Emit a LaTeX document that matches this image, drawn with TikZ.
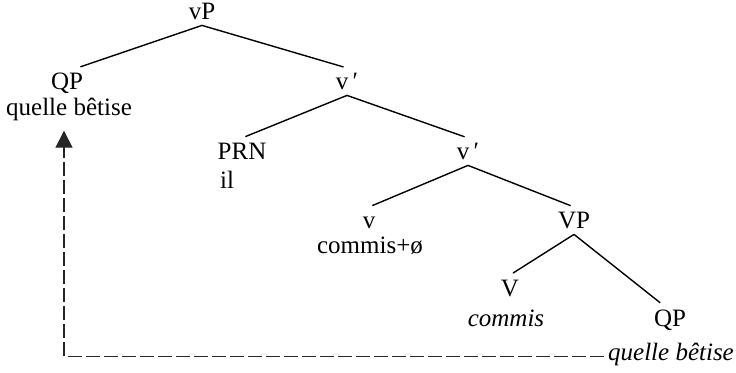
\documentclass[tikz,border=0pt]{standalone}
\usepackage{fontspec}
\setmainfont{Liberation Serif}
\usetikzlibrary{arrows.meta}

\begin{document}
\begin{tikzpicture}[x=0.5pt,y=-0.5pt,
  every node/.style={font=\fontsize{12.5pt}{15pt}\selectfont},
  cat/.style={anchor=base,inner sep=2.5pt,text height=8.3pt,text depth=0pt},
  word/.style={anchor=base,inner sep=2pt},
  branch/.style={line width=0.7pt,shorten >=1.8pt},
  trace/.style={line width=0.7pt,draw=black!85,dash pattern=on 7pt off 2pt,
    -{Triangle[width=8.5pt,length=8.5pt]},shorten >=2.5pt}]
  \useasboundingbox (0,0) rectangle (736,373);

  % categories
  \node[cat] (vP)   at (202,20)  {vP};
  \node[cat] (QPa)  at (67,90)   {QP};
  \node[cat] (vbar) at (347,90)  {v\,′};
  \node[cat] (PRN)  at (242,160) {PRN};
  \node[cat] (vbarb) at (468,160) {v\,′};
  \node[cat] (v)    at (369,229) {v};
  \node[cat] (VP)   at (574,229) {VP};
  \node[cat] (V)    at (510,297) {V};
  \node[cat] (QPb)  at (670,327) {QP};

  % words
  \node[word] (qbA)  at (69,116)  {quelle bêtise};
  \node[word] (il)   at (227,189) {il};
  \node[word] (vw)   at (370,254) {commis+ø};
  \node[word] (Vw)   at (506,327) {\itshape commis};
  \node[word] (qbB)  at (671,361) {\itshape quelle bêtise};

  % branches
  \draw[branch] (vP.south) -- ([xshift=5pt]QPa.north);
  \draw[branch] (vP.south) -- (vbar.north);
  \draw[branch] (vbar.south) -- (PRN.north);
  \draw[branch] (vbar.south) -- (vbarb.north);
  \draw[branch] (vbarb.south) -- (v.north);
  \draw[branch] (vbarb.south) -- (VP.north);
  \draw[branch] (VP.south) -- (V.north);
  \draw[branch] (VP.south) -- ([xshift=-3.5pt]QPb.north);

  % movement
  \draw[trace] ([yshift=-0.8pt]qbB.west) -| ([xshift=-2.5pt]qbA.south);
\end{tikzpicture}
\end{document}
